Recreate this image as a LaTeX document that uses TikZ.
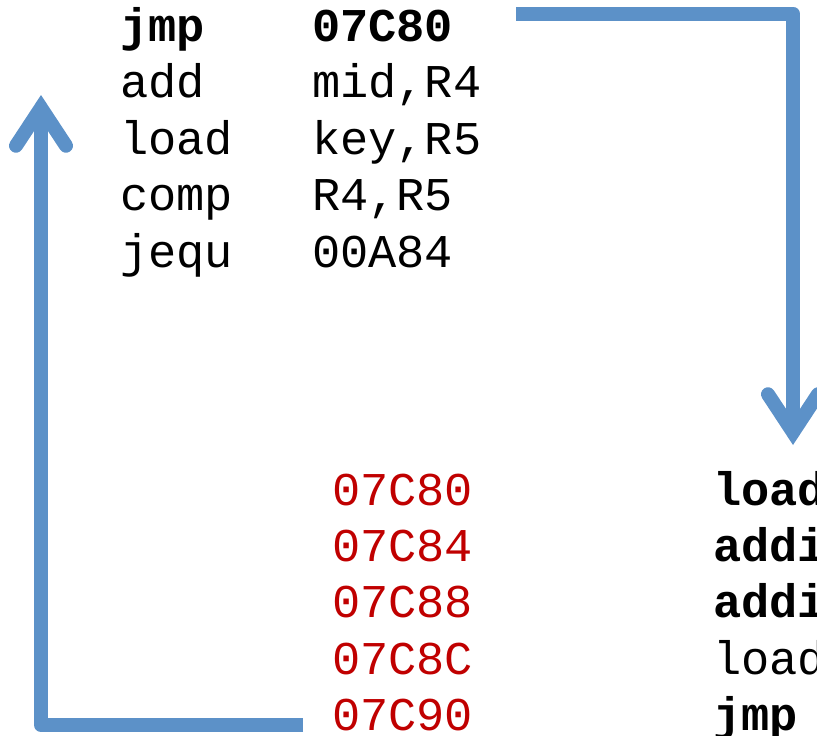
\documentclass[tikz,border=0pt]{standalone}
\usepackage{fontspec}
\newfontfamily\codefont{Liberation Mono}
\usetikzlibrary{arrows.meta}
\definecolor{flowblue}{RGB}{92,145,200}
\definecolor{addrred}{RGB}{192,0,0}
\tikzset{
  code/.style={anchor=base west, inner sep=0pt, outer sep=0pt,
    font=\codefont\fontsize{47}{56}\selectfont, text=black},
  codeb/.style={code, font=\codefont\bfseries\fontsize{47}{56}\selectfont},
  addr/.style={code, text=addrred},
  flow/.style={draw=flowblue, line width=14pt, line join=round,
    -{Straight Barb[length=38pt, width=50pt, line cap=round, line join=miter]}},
}
\begin{document}
\begin{tikzpicture}[x=1pt,y=-1pt]
\useasboundingbox (0,0) rectangle (817,736);
\clip (0,0) rectangle (817,736);
% top-left block
\node[codeb] (op1) at (120,41) {jmp};
\node[codeb] (ar1) at (312,41) {07C80};
\node[code] (op2) at (120,97) {add};
\node[code] (ar2) at (312,97) {mid,R4};
\node[code] (op3) at (120,154) {load};
\node[code] (ar3) at (312,154) {key,R5};
\node[code] (op4) at (120,210) {comp};
\node[code] (ar4) at (312,210) {R4,R5};
\node[code] (op5) at (120,267) {jequ};
\node[code] (ar5) at (312,267) {00A84};
% addresses
\node[addr] (a1) at (332,505) {07C80};
\node[addr] (a2) at (332,561) {07C84};
\node[addr] (a3) at (332,617) {07C88};
\node[addr] (a4) at (332,674) {07C8C};
\node[addr] (a5) at (332,730) {07C90};
% right block (cut at the edge)
\node[codeb] (r1) at (713,505) {load};
\node[codeb] (r2) at (713,561) {addi};
\node[codeb] (r3) at (713,617) {addi};
\node[code] (r4) at (713,674) {load};
\node[codeb] (r5) at (713,730) {jmp};
% arrows
\coordinate (s1) at (516,13.5);
\coordinate (c1) at (793,13.5);
\coordinate (t1) at (793,445);
\coordinate (s2) at (303,725);
\coordinate (c2) at (41,725);
\coordinate (t2) at (41,95);
\draw[flow] (s1) -- (c1) -- (t1);
\draw[flow] (s2) -- (c2) -- (t2);
\end{tikzpicture}
\end{document}
